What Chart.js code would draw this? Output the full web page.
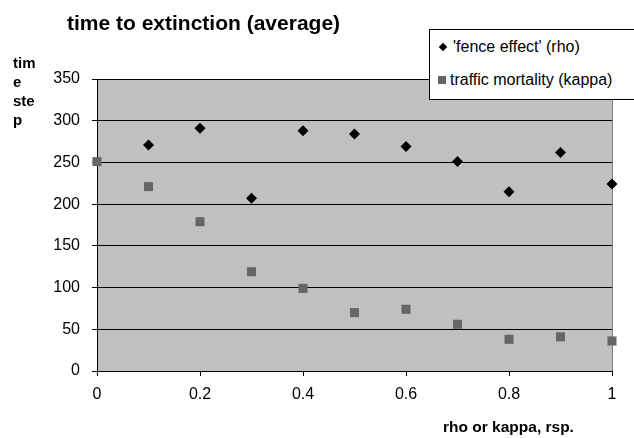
<!DOCTYPE html>
<html>
<head>
<meta charset="utf-8">
<script src="https://cdn.jsdelivr.net/npm/chart.js@4/dist/chart.umd.min.js"></script>
<style>
    html, body { margin: 0; padding: 0; background: #fff; overflow: hidden; }
    #wrap { position: relative; width: 634px; height: 438px; font-family: "Liberation Sans", Arial, sans-serif; }
    #chart { position: absolute; left: 0; top: 0; }
    .txt { position: absolute; color: #000; white-space: nowrap; }
    #title { left: 67px; top: 10px; font-size: 21px; line-height: 26px; font-weight: bold; }
    #ytitle { left: 13px; top: 53px; font-size: 15px; font-weight: bold; line-height: 19px; }
    #xtitle { left: 443px; top: 418px; font-size: 15.5px; line-height: 18px; font-weight: bold; }
    #legend { position: absolute; left: 429px; top: 29px; width: 230px; height: 69px; border: 1px solid #000; background: #fff; font-size: 16px; }
    .item { position: absolute; left: 8px; height: 18px; line-height: 18px; }
    .mark { display: inline-block; vertical-align: middle; margin-right: 5px; position: relative; top: -1px; }
    .diamond { width: 6px; height: 6px; background: #000; transform: rotate(45deg); margin-left: 2px; margin-right: 7px; }
    .square { width: 8px; height: 8px; background: #666; margin-right: 4px; }
</style>
</head>
<body>
<div id="wrap">
    <canvas id="chart" width="634" height="438"></canvas>
    <div class="txt" id="title">time to extinction (average)</div>
    <div class="txt" id="ytitle">tim<br>e<br>ste<br>p</div>
    <div class="txt" id="xtitle">rho or kappa, rsp.</div>
    <div id="legend">
        <div class="item" style="top:8px"><span class="mark diamond"></span>'fence effect' (rho)</div>
        <div class="item" style="top:41px"><span class="mark square"></span>traffic mortality (kappa)</div>
    </div>
</div>
<script>
const rhoX = [0.1, 0.2, 0.3, 0.4, 0.5, 0.6, 0.7, 0.8, 0.9, 1.0];
const rhoY = [271, 291, 207, 288, 284, 269, 251, 215, 262, 224];
const kappaX = [0, 0.1, 0.2, 0.3, 0.4, 0.5, 0.6, 0.7, 0.8, 0.9, 1.0];
const kappaY = [251, 221, 179, 119, 99, 70, 74, 56, 38, 41, 36];
const yTicks = [0, 50, 100, 150, 200, 250, 300, 350];
const xTicks = [0, 0.2, 0.4, 0.6, 0.8, 1];

const FONT = { family: '"Liberation Sans", Arial, sans-serif', size: 16 };

// grey plot area plus the grey right-hand border, like the spreadsheet chart
const plotArea = {
    id: 'plotArea',
    beforeDraw(chart) {
        const { ctx, chartArea: a } = chart;
        ctx.save();
        ctx.fillStyle = '#c0c0c0';
        ctx.fillRect(a.left, a.top, a.right - a.left, a.bottom - a.top);
        ctx.restore();
    },
    beforeDatasetsDraw(chart) {
        const { ctx, chartArea: a } = chart;
        ctx.save();
        ctx.strokeStyle = '#808080';
        ctx.lineWidth = 1;
        ctx.beginPath();
        ctx.moveTo(Math.round(a.right) + 0.5, a.top);
        ctx.lineTo(Math.round(a.right) + 0.5, a.bottom);
        ctx.stroke();
        ctx.restore();
    }
};

new Chart(document.getElementById('chart'), {
    type: 'scatter',
    data: {
        datasets: [
            {
                label: "'fence effect' (rho)",
                data: rhoX.map((x, i) => ({ x, y: rhoY[i] })),
                pointStyle: 'rectRot',
                pointRadius: 5.5,
                pointBackgroundColor: '#000',
                pointBorderWidth: 0,
                order: 1,
                clip: false
            },
            {
                label: 'traffic mortality (kappa)',
                data: kappaX.map((x, i) => ({ x, y: kappaY[i] })),
                pointStyle: 'rect',
                pointRadius: 6.4,
                pointBackgroundColor: '#666666',
                pointBorderWidth: 0,
                order: 0,
                clip: false
            }
        ]
    },
    options: {
        responsive: false,
        animation: false,
        events: [],
        layout: { padding: { left: 0, top: 79, right: 22, bottom: 0 } },
        plugins: { legend: { display: false }, title: { display: false }, tooltip: { enabled: false } },
        scales: {
            x: {
                type: 'linear',
                min: 0,
                max: 1,
                afterFit: s => { s.height = 67; },
                afterBuildTicks: s => { s.ticks = xTicks.map(v => ({ value: v })); },
                ticks: { color: '#000', font: FONT, padding: 9, maxRotation: 0, callback: v => String(v) },
                grid: { drawOnChartArea: false, drawTicks: true, tickLength: 5, color: '#000' },
                border: { display: true, color: '#000', width: 1 }
            },
            y: {
                min: 0,
                max: 350,
                afterFit: s => { s.width = 97; },
                afterBuildTicks: s => { s.ticks = yTicks.map(v => ({ value: v })); },
                ticks: { color: '#000', font: FONT, padding: 12 },
                grid: { drawOnChartArea: true, drawTicks: true, tickLength: 5, color: '#000', lineWidth: 1 },
                border: { display: true, color: '#000', width: 1 }
            }
        }
    },
    plugins: [plotArea]
});
</script>
</body>
</html>
